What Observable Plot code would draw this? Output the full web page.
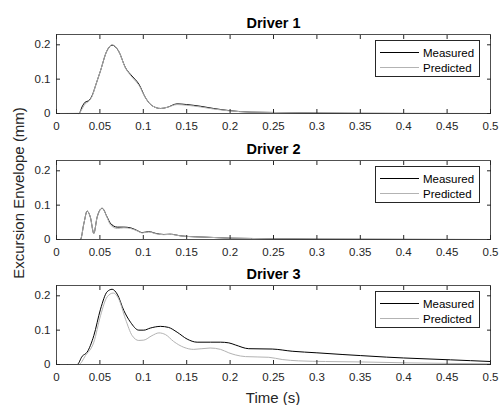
<!DOCTYPE html>
<html>
<head>
<meta charset="utf-8">
<script src="https://cdn.jsdelivr.net/npm/d3@7"></script>
<script src="https://cdn.jsdelivr.net/npm/@observablehq/plot@0.6"></script>
<style>
  body { margin: 0; background: #fff; }
  #chart { position: relative; width: 499px; height: 405px; overflow: hidden; background: #fff;
           font-family: "Liberation Sans", Arial, Helvetica, sans-serif; color: #262626; }
  .panel { position: absolute; left: 0; }
  .legend { position: absolute; left: 375px; width: 105px; height: 37px; box-sizing: border-box;
            border: 1px solid #262626; background: #fff; }
  .legend .ln { position: absolute; left: 4px; width: 39px; height: 0; }
  .legend .lb { position: absolute; left: 47px; font-size: 11.5px; line-height: 14px; white-space: nowrap; color: #000; }
  .ylabel { position: absolute; left: 18px; top: 193px; font-size: 15px; line-height: 17px; white-space: nowrap;
            transform: translate(-50%, -50%) rotate(-90deg); }
  .xlabel { position: absolute; left: 273px; top: 389px; font-size: 15px; line-height: 17px; white-space: nowrap;
            transform: translateX(-50%); }
</style>
</head>
<body>
<div id="chart"></div>
<script>
// ---- Data ----
const titles = ["Driver 1", "Driver 2", "Driver 3"];
const seriesNames = ["Measured", "Predicted"];
const xTicks = [0, 0.05, 0.1, 0.15, 0.2, 0.25, 0.3, 0.35, 0.4, 0.45, 0.5];
const yTicks = [0, 0.1, 0.2];

const d1Time      = [0, 0.0257, 0.03, 0.033, 0.037, 0.041, 0.0455, 0.0505, 0.058, 0.064, 0.0715, 0.0795, 0.087, 0.095, 0.1025, 0.11, 0.12, 0.1275, 0.139, 0.15, 0.166, 0.181, 0.198, 0.224, 0.25, 0.3, 0.35, 0.4, 0.5];
const d1Measured  = [0, 0, 0.022, 0.033, 0.037, 0.052, 0.085, 0.123, 0.182, 0.199, 0.182, 0.133, 0.109, 0.085, 0.046, 0.023, 0.0146, 0.018, 0.028, 0.026, 0.021, 0.0146, 0.0087, 0.004, 0.003, 0.0012, 0.0005, 0.0002, 0];
const d1Predicted = [0, 0.0005, 0.016, 0.028, 0.035, 0.05, 0.085, 0.123, 0.182, 0.2, 0.182, 0.132, 0.106, 0.082, 0.046, 0.023, 0.0146, 0.018, 0.026, 0.024, 0.019, 0.013, 0.008, 0.004, 0.003, 0.0012, 0.0005, 0.0002, 0];

const d2Time      = [0, 0.0276, 0.0315, 0.0353, 0.039, 0.043, 0.0468, 0.0526, 0.0584, 0.062, 0.07, 0.0776, 0.0853, 0.093, 0.0987, 0.1063, 0.114, 0.1236, 0.131, 0.143, 0.1505, 0.17, 0.1985, 0.225, 0.25, 0.3, 0.4, 0.5];
const d2Measured  = [0, 0, 0.046, 0.0825, 0.065, 0.018, 0.065, 0.091, 0.065, 0.0475, 0.036, 0.036, 0.034, 0.026, 0.020, 0.023, 0.018, 0.0146, 0.0155, 0.0107, 0.009, 0.007, 0.004, 0.003, 0.002, 0.001, 0.0004, 0];
const d2Predicted = [0, 0, 0.046, 0.0825, 0.065, 0.018, 0.065, 0.09, 0.064, 0.043, 0.032, 0.034, 0.032, 0.025, 0.019, 0.022, 0.017, 0.014, 0.015, 0.0105, 0.0088, 0.007, 0.004, 0.003, 0.002, 0.001, 0.0004, 0];

const d3MeasuredTime  = [0, 0.0238, 0.0296, 0.0353, 0.043, 0.0507, 0.0584, 0.0641, 0.0699, 0.0776, 0.0853, 0.0948, 0.1006, 0.108, 0.1198, 0.129, 0.139, 0.1505, 0.162, 0.1774, 0.189, 0.1985, 0.206, 0.2215, 0.2485, 0.2715, 0.30, 0.33, 0.35, 0.38, 0.40, 0.454, 0.5];
const d3Measured      = [0, 0, 0.024, 0.036, 0.084, 0.161, 0.212, 0.219, 0.205, 0.157, 0.123, 0.1, 0.1, 0.106, 0.111, 0.108, 0.094, 0.074, 0.065, 0.065, 0.065, 0.063, 0.057, 0.046, 0.045, 0.0386, 0.034, 0.029, 0.026, 0.0215, 0.019, 0.0136, 0.0087];
const d3PredictedTime = [0, 0.0257, 0.0334, 0.043, 0.0507, 0.0584, 0.0653, 0.0718, 0.0795, 0.0872, 0.0948, 0.1006, 0.110, 0.118, 0.1256, 0.135, 0.1467, 0.158, 0.177, 0.189, 0.1985, 0.206, 0.2177, 0.2446, 0.26, 0.279, 0.31, 0.35, 0.40, 0.5];
const d3Predicted     = [0, 0, 0.026, 0.065, 0.142, 0.197, 0.208, 0.19, 0.132, 0.084, 0.07, 0.071, 0.084, 0.092, 0.087, 0.067, 0.050, 0.044, 0.048, 0.044, 0.034, 0.028, 0.023, 0.021, 0.0145, 0.0106, 0.0087, 0.0075, 0.005, 0.002];

// ---- Layout ----
const frameTops = [34, 160, 285];
const frameH = 79, mTop = 24, mBottom = 22;
const colors = {Measured: "#000000", Predicted: "#b3b3b3"};
const axisColor = "#262626";
const fmt = d => String(d);

const zip = (t, v) => t.map((x, i) => ({t: x, v: v[i]}));
const panels = [
  {measured: zip(d1Time, d1Measured), predicted: zip(d1Time, d1Predicted)},
  {measured: zip(d2Time, d2Measured), predicted: zip(d2Time, d2Predicted)},
  {measured: zip(d3MeasuredTime, d3Measured), predicted: zip(d3PredictedTime, d3Predicted)}
];

const chart = document.getElementById("chart");

panels.forEach((p, i) => {
  const svg = Plot.plot({
    width: 499,
    height: mTop + frameH + mBottom,
    marginLeft: 56, marginRight: 9, marginTop: mTop, marginBottom: mBottom,
    x: {domain: [0, 0.5], label: null},
    y: {domain: [0, 0.23], label: null},
    style: {fontFamily: '"Liberation Sans", Arial, Helvetica, sans-serif', fontSize: "11.5px",
            background: "transparent", overflow: "visible", color: axisColor},
    marks: [
      Plot.line(p.measured, {x: "t", y: "v", stroke: colors.Measured, strokeWidth: 1, curve: "monotone-x"}),
      Plot.line(p.predicted, {x: "t", y: "v", stroke: colors.Predicted, strokeWidth: 1, curve: "monotone-x"}),
      Plot.frame({stroke: axisColor, strokeWidth: 0.8}),
      Plot.axisX(xTicks, {anchor: "bottom", tickSize: -4, tickPadding: 12.5, tickFormat: fmt, stroke: axisColor, fill: axisColor, label: null, fontSize: 11.5}),
      Plot.axisX(xTicks, {anchor: "top", tickSize: -4, fill: "none", stroke: axisColor, label: null}),
      Plot.axisY(yTicks, {anchor: "left", tickSize: -4, tickPadding: 10, tickFormat: fmt, stroke: axisColor, fill: axisColor, label: null, fontSize: 11.5}),
      Plot.axisY(yTicks, {anchor: "right", tickSize: -4, fill: "none", stroke: axisColor, label: null}),
      Plot.text([titles[i]], {frameAnchor: "top", lineAnchor: "bottom", dy: -7, fontSize: 14.5, fontWeight: "bold", fill: "#000"})
    ]
  });
  svg.classList.add("panel");
  svg.style.top = (frameTops[i] - mTop) + "px";
  chart.appendChild(svg);

  const lg = document.createElement("div");
  lg.className = "legend";
  lg.style.top = (frameTops[i] + 6) + "px";
  seriesNames.forEach((name, k) => {
    const ln = document.createElement("div");
    ln.className = "ln";
    ln.style.top = (11 + 15 * k) + "px";
    ln.style.borderTop = "1px solid " + colors[name];
    lg.appendChild(ln);
    const lb = document.createElement("div");
    lb.className = "lb";
    lb.style.top = (4.5 + 15 * k) + "px";
    lb.textContent = name;
    lg.appendChild(lb);
  });
  chart.appendChild(lg);
});

const yl = document.createElement("div");
yl.className = "ylabel";
yl.textContent = "Excursion Envelope (mm)";
chart.appendChild(yl);

const xl = document.createElement("div");
xl.className = "xlabel";
xl.textContent = "Time (s)";
chart.appendChild(xl);
</script>
</body>
</html>
